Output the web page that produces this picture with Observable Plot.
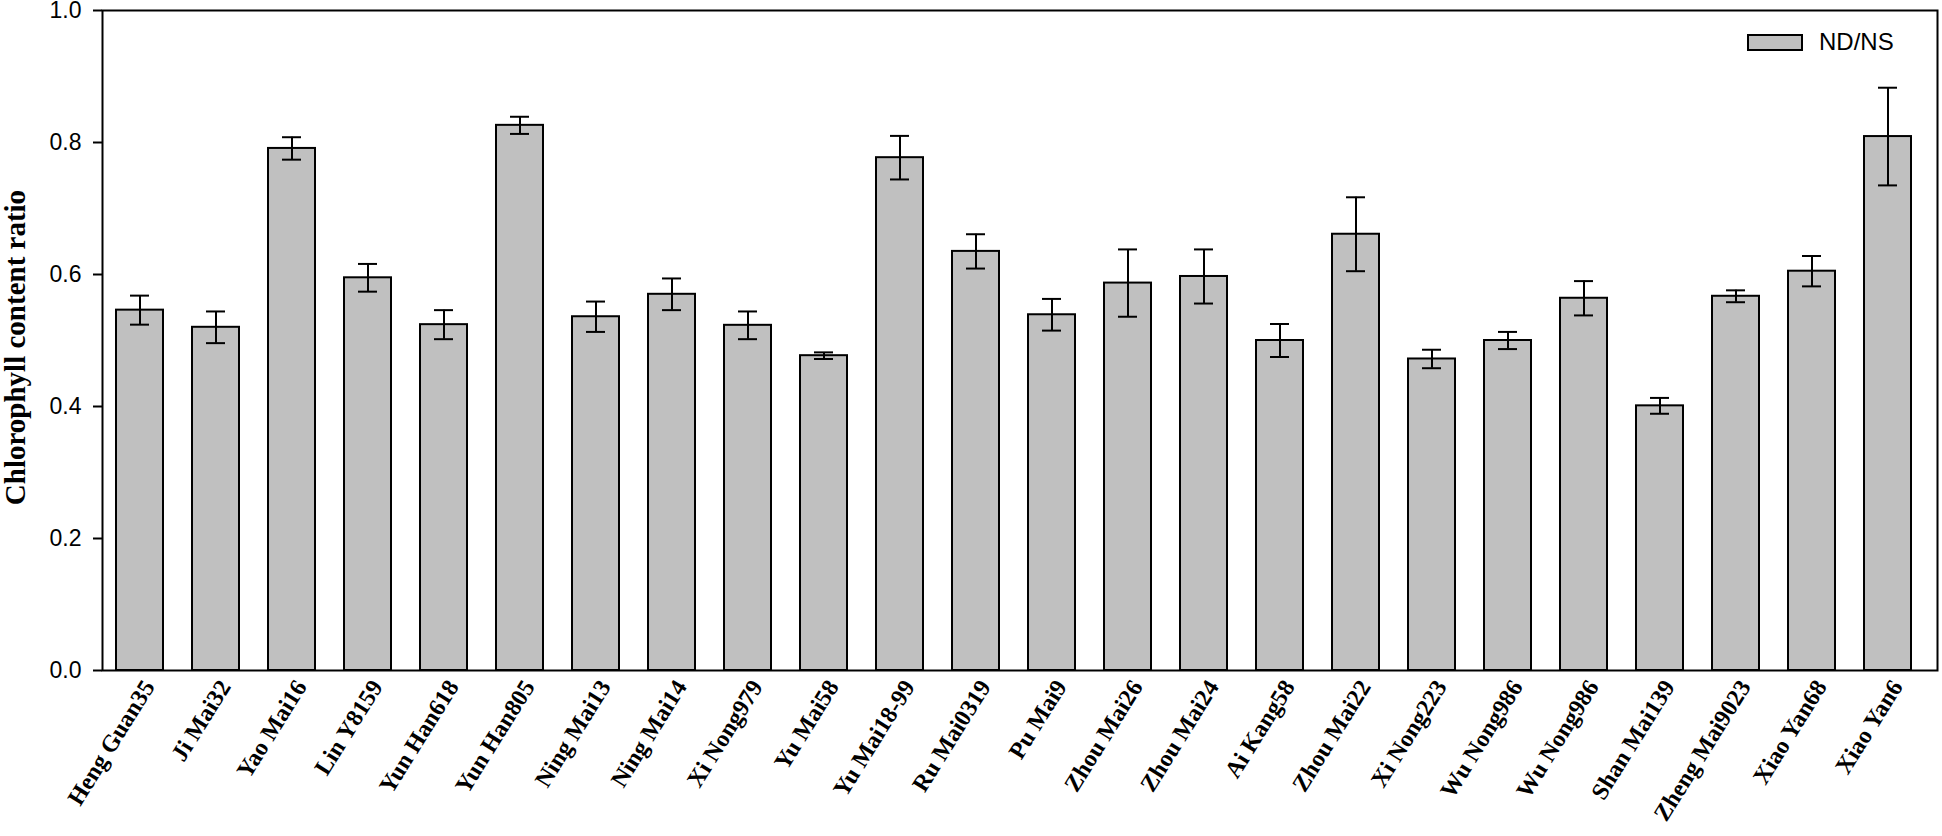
<!DOCTYPE html>
<html>
<head>
<meta charset="utf-8">
<script src="https://cdn.jsdelivr.net/npm/d3@7"></script>
<script src="https://cdn.jsdelivr.net/npm/@observablehq/plot@0.6"></script>
<style>
  body { margin: 0; background: #fff; }
  #wrap { position: relative; width: 1942px; height: 836px; }
  #legend { position: absolute; left: 1747px; top: 28px; display: flex; align-items: center;
            font-family: "Liberation Sans", Arial, sans-serif; font-size: 24px; color: #000; }
  #legend .sw { width: 52px; height: 13px; background: #c0c0c0; border: 2px solid #000; margin-right: 16px; }
</style>
</head>
<body>
<div id="wrap"><div id="legend"><span class="sw"></span><span>ND/NS</span></div></div>
<script>
const cultivars = ["Heng Guan35","Ji Mai32","Yao Mai16","Lin Y8159","Yun Han618","Yun Han805","Ning Mai13","Ning Mai14","Xi Nong979","Yu Mai58","Yu Mai18-99","Ru Mai0319","Pu Mai9","Zhou Mai26","Zhou Mai24","Ai Kang58","Zhou Mai22","Xi Nong223","Wu Nong986","Wu Nong986","Shan Mai139","Zheng Mai9023","Xiao Yan68","Xiao Yan6"];
const ratio = [0.546,0.520,0.791,0.595,0.524,0.826,0.536,0.570,0.523,0.477,0.777,0.635,0.539,0.587,0.597,0.500,0.661,0.472,0.500,0.564,0.401,0.567,0.605,0.809];
const errors = [0.022,0.024,0.017,0.021,0.022,0.013,0.023,0.024,0.021,0.005,0.033,0.026,0.024,0.051,0.041,0.025,0.056,0.014,0.013,0.026,0.012,0.009,0.023,0.074];
const yTicks = [0, 0.2, 0.4, 0.6, 0.8, 1.0];
const yLabel = "Chlorophyll content ratio";

const data = cultivars.map((name, i) => ({i, name, v: ratio[i], lo: ratio[i] - errors[i], hi: ratio[i] + errors[i]}));

const chart = Plot.plot({
  width: 1942,
  height: 836,
  marginLeft: 102,
  marginRight: 5,
  marginTop: 10,
  marginBottom: 166,
  style: {fontFamily: "'Liberation Sans', Arial, sans-serif", fontSize: "23px", color: "#000", background: "transparent"},
  x: {type: "band", domain: d3.range(cultivars.length), paddingInner: 0.38, paddingOuter: 0.19, insetRight: 11},
  y: {domain: [0, 1]},
  marks: [
    Plot.barY(data, {x: "i", y: "v", fill: "#c0c0c0", stroke: "#000", strokeWidth: 2}),
    Plot.ruleX(data, {x: "i", y1: "lo", y2: "hi", stroke: "#000", strokeWidth: 2}),
    Plot.tickY(data, {x: "i", y: "lo", insetLeft: 14, insetRight: 14, stroke: "#000", strokeWidth: 2}),
    Plot.tickY(data, {x: "i", y: "hi", insetLeft: 14, insetRight: 14, stroke: "#000", strokeWidth: 2}),
    Plot.frame({stroke: "#000", strokeWidth: 2}),
    Plot.axisY({ticks: yTicks, tickFormat: d3.format(".1f"), tickSize: 9, tickPadding: 12, strokeWidth: 2, label: null, fontSize: 23}),
    Plot.axisX({tickFormat: i => cultivars[i], tickRotate: -58, tickSize: 0, tickPadding: 8, dx: 9, dy: 4, label: null,
                fontFamily: "'Liberation Serif', 'Times New Roman', serif", fontWeight: "bold", fontSize: 24}),
    Plot.text([yLabel], {text: d => d, frameAnchor: "left", textAnchor: "middle", lineAnchor: "middle", rotate: -90, dx: -87, dy: 7,
                fontFamily: "'Liberation Serif', 'Times New Roman', serif", fontWeight: "bold", fontSize: 29})
  ]
});
document.getElementById("wrap").prepend(chart);
</script>
</body>
</html>
